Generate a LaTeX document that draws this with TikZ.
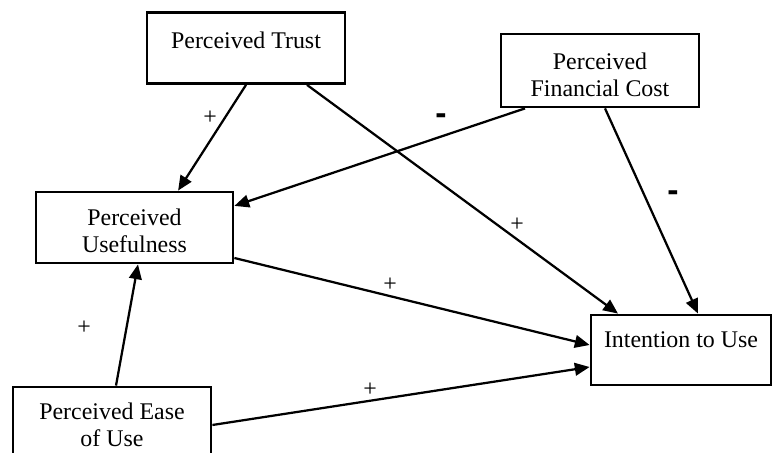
\documentclass[tikz,border=0pt]{standalone}
\usepackage{fontspec}
\setmainfont{Liberation Serif}
\newfontfamily\signfont{Liberation Sans}
\usetikzlibrary{arrows.meta,positioning}

\begin{document}
\begin{tikzpicture}[
  box/.style={draw=black, line width=2pt, fill=white, minimum width=4.95cm, minimum height=1.775cm},
  lbl/.style={font=\fontsize{17}{19.2}\selectfont, align=center, inner sep=0pt},
  plussign/.style={font=\fontsize{17}{19.2}\selectfont, inner sep=0pt},
  minussign/.style={font=\signfont\bfseries\fontsize{24}{26}\selectfont, inner sep=0pt},
  arr/.style={-{Triangle[length=10.5pt,width=9pt]}, line width=1.6pt}]
  \useasboundingbox (0,0) rectangle (19.375,11.325);

  % boxes
  \node[box] (trust) at (6.15,10.125) {};
  \node[lbl] (trusttxt) at (6.15,10.325) {Perceived Trust};

  \node[box, minimum height=1.825cm] (cost) at (15.0,9.5625) {};
  \node[lbl] (costtxt) at (15.0,9.45) {Perceived\\Financial Cost};

  \node[box, minimum width=4.925cm] (useful) at (3.3625,5.6375) {};
  \node[lbl] (usefultxt) at (3.3625,5.5625) {Perceived\\Usefulness};

  \node[box, minimum width=4.5cm, minimum height=1.75cm] (intent) at (17.025,2.575) {};
  \node[lbl] (intenttxt) at (17.025,2.825) {Intention to Use};

  \node[box] (ease) at (2.8,0.7625) {};
  \node[lbl] (easetxt) at (2.8,0.7) {Perceived Ease\\of Use};

  % paths
  \draw[arr] (trust.south) -- ([xshift=1.09cm]useful.north);
  \draw[arr] ([xshift=1.525cm]trust.south) -- ([xshift=-1.575cm]intent.north);
  \draw[arr] ([xshift=-1.875cm]cost.south) -- ([yshift=0.54cm]useful.east);
  \draw[arr] ([xshift=0.125cm]cost.south) -- ([xshift=0.425cm]intent.north);
  \draw[arr] ([yshift=-0.7625cm]useful.east) -- ([yshift=0.125cm]intent.west);
  \draw[arr] ([xshift=0.1cm]ease.north) -- ([xshift=0.0875cm]useful.south);
  \draw[arr] ([yshift=-0.0625cm]ease.east) -- ([yshift=-0.425cm]intent.west);

  % signs
  \node[plussign] (p1) at (5.25,8.375) {+};
  \node[minussign] (m1) at (11.025,8.35) {-};
  \node[minussign] (m2) at (16.825,6.425) {-};
  \node[plussign] (p2) at (12.925,5.7) {+};
  \node[plussign] (p3) at (9.75,4.2) {+};
  \node[plussign] (p4) at (2.1,3.125) {+};
  \node[plussign] (p5) at (9.25,1.575) {+};
\end{tikzpicture}
\end{document}
